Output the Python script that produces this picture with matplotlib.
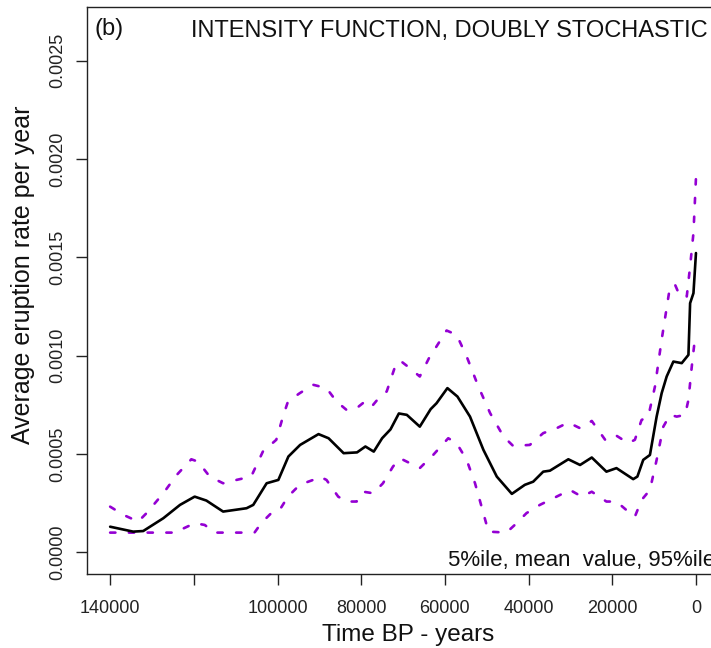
import matplotlib
matplotlib.use("Agg")
import matplotlib.pyplot as plt

plt.rcParams['font.family'] = ['Liberation Sans', 'DejaVu Sans']

# ---- data ----
mean_t = [140000, 134500, 132100, 127300, 123300, 119800, 117000, 113000, 107400, 105800,
          102600, 99800, 97400, 94600, 90200, 87800, 84200, 81000, 79000, 77000,
          75000, 73000, 71000, 69100, 66000, 63400, 62000, 59400, 57000, 54000,
          50800, 47600, 44000, 40900, 38900, 36500, 34900, 30500, 27700, 24900,
          21400, 19000, 15000, 14000, 12600, 11000, 9400, 8200, 7000, 5400,
          3400, 1800, 1400, 600, 0]
mean_v = [0.000130, 0.000105, 0.000108, 0.000173, 0.000241, 0.000283, 0.000263, 0.000207, 0.000224, 0.000241,
          0.000351, 0.000368, 0.000487, 0.000546, 0.000601, 0.000580, 0.000504, 0.000508, 0.000538, 0.000512,
          0.000580, 0.000625, 0.000706, 0.000699, 0.000639, 0.000728, 0.000758, 0.000835, 0.000792, 0.000690,
          0.000521, 0.000385, 0.000297, 0.000343, 0.000359, 0.000410, 0.000415, 0.000473, 0.000444, 0.000482,
          0.000410, 0.000428, 0.000372, 0.000385, 0.000470, 0.000495, 0.000690, 0.000809, 0.000894, 0.000970,
          0.000962, 0.001004, 0.001267, 0.001318, 0.001522]

upper_t = [140000, 136800, 133300, 131300, 127300, 124100, 120600, 119000, 116200, 113000,
           109800, 106300, 103500, 100300, 98700, 97500, 94700, 91500, 88300, 85900,
           83500, 81100, 79100, 77500, 75500, 73900, 71900, 70700, 68400, 66000,
           63600, 62000, 59600, 57200, 54800, 52000, 49200, 46000, 43700, 39700,
           36500, 33300, 30500, 27700, 24900, 21700, 19300, 16200, 14600, 13000,
           11400, 9800, 8200, 6200, 5000, 3800, 2200, 1400, 600, 0]
upper_v = [0.000232, 0.000190, 0.000156, 0.000199, 0.000300, 0.000393, 0.000473, 0.000461, 0.000385, 0.000351,
           0.000368, 0.000385, 0.000512, 0.000572, 0.000690, 0.000767, 0.000809, 0.000852, 0.000835, 0.000767,
           0.000724, 0.000733, 0.000767, 0.000741, 0.000792, 0.000818, 0.000945, 0.000975, 0.000937, 0.000894,
           0.000996, 0.001047, 0.001128, 0.001106, 0.000996, 0.000843, 0.000708, 0.000589, 0.000541, 0.000546,
           0.000606, 0.000631, 0.000660, 0.000631, 0.000668, 0.000572, 0.000597, 0.000555, 0.000572, 0.000673,
           0.000690, 0.000843, 0.001081, 0.001352, 0.001361, 0.001301, 0.001301, 0.001454, 0.001624, 0.001904]

lower_t = [140000, 124100, 123300, 119800, 117400, 115000, 105500, 103900, 101500, 99500,
           97500, 94700, 91500, 89900, 88300, 85500, 83500, 81100, 79500, 77100,
           74800, 72400, 70700, 66000, 62800, 59200, 57200, 54800, 52800, 50800,
           49600, 45300, 43300, 40500, 37300, 33300, 30100, 27300, 24900, 21400,
           19000, 16200, 14600, 13000, 11000, 9400, 7800, 6200, 4600, 2600,
           1800, 1000, 200]
lower_v = [0.000100, 0.000100, 0.000113, 0.000148, 0.000139, 0.000100, 0.000100, 0.000148, 0.000199, 0.000215,
           0.000283, 0.000343, 0.000368, 0.000385, 0.000368, 0.000283, 0.000258, 0.000258, 0.000308, 0.000300,
           0.000351, 0.000436, 0.000478, 0.000428, 0.000495, 0.000580, 0.000555, 0.000470, 0.000351, 0.000199,
           0.000105, 0.000100, 0.000139, 0.000199, 0.000241, 0.000283, 0.000317, 0.000283, 0.000308, 0.000258,
           0.000258, 0.000207, 0.000181, 0.000266, 0.000317, 0.000470, 0.000639, 0.000699, 0.000690, 0.000699,
           0.000775, 0.000945, 0.001097]

x_ticks = [140000, 120000, 100000, 80000, 60000, 40000, 20000, 0]
x_tick_labels = ['140000', '', '100000', '80000', '60000', '40000', '20000', '0']
y_ticks = [0.0, 0.0005, 0.0010, 0.0015, 0.0020, 0.0025]
y_tick_labels = ['0.0000', '0.0005', '0.0010', '0.0015', '0.0020', '0.0025']

title_text = 'INTENSITY FUNCTION, DOUBLY STOCHASTIC'
panel_text = '(b)'
note_text = '5%ile, mean  value, 95%ile'
x_label = 'Time BP - years'
y_label = 'Average eruption rate per year'

# ---- figure ----
W, H = 711, 648
fig = plt.figure(figsize=(W / 100, H / 100), dpi=100)
ax = fig.add_axes([86.7 / W, 1 - 573.7 / H, (719.4 - 86.7) / W, (573.7 - 6.7) / H])

purple = '#9400D3'
dash = (0, (2.0, 5.1))
ax.plot(upper_t, upper_v, color=purple, lw=1.9, linestyle=dash, dash_capstyle='round')
ax.plot(lower_t, lower_v, color=purple, lw=1.9, linestyle=dash, dash_capstyle='round')
ax.plot(mean_t, mean_v, color='black', lw=1.9, solid_capstyle='round', solid_joinstyle='round')

ax.set_xlim(145600, -5600)
ax.set_ylim(-0.000109, 0.002775)

ax.set_xticks(x_ticks)
ax.set_xticklabels(x_tick_labels)
ax.set_yticks(y_ticks)
ax.set_yticklabels(y_tick_labels, rotation=90, va='center')

for s in ax.spines.values():
    s.set_linewidth(1.0)
    s.set_color('#222222')
ax.tick_params(axis='both', direction='out', length=8, width=1.0, color='#222222',
               labelsize=13, labelcolor='#222222')
ax.tick_params(axis='x', pad=11)
ax.tick_params(axis='y', pad=7)

def px(x, y):
    return x / W, 1 - y / H

fig.text(*px(95, 35.5), panel_text, fontsize=17, ha='left', va='baseline', color='#111111')
fig.text(*px(708, 37), title_text, fontsize=17, ha='right', va='baseline', color='#111111')
fig.text(*px(448, 565.7), note_text, fontsize=16, ha='left', va='baseline', color='#111111')
fig.text(*px(408, 641), x_label, fontsize=17.5, ha='center', va='baseline', color='#111111')
fig.text(*px(23, 275), y_label, fontsize=18, ha='center', va='center', rotation=90,
         color='#111111')

fig.savefig('out.png', dpi=100)
